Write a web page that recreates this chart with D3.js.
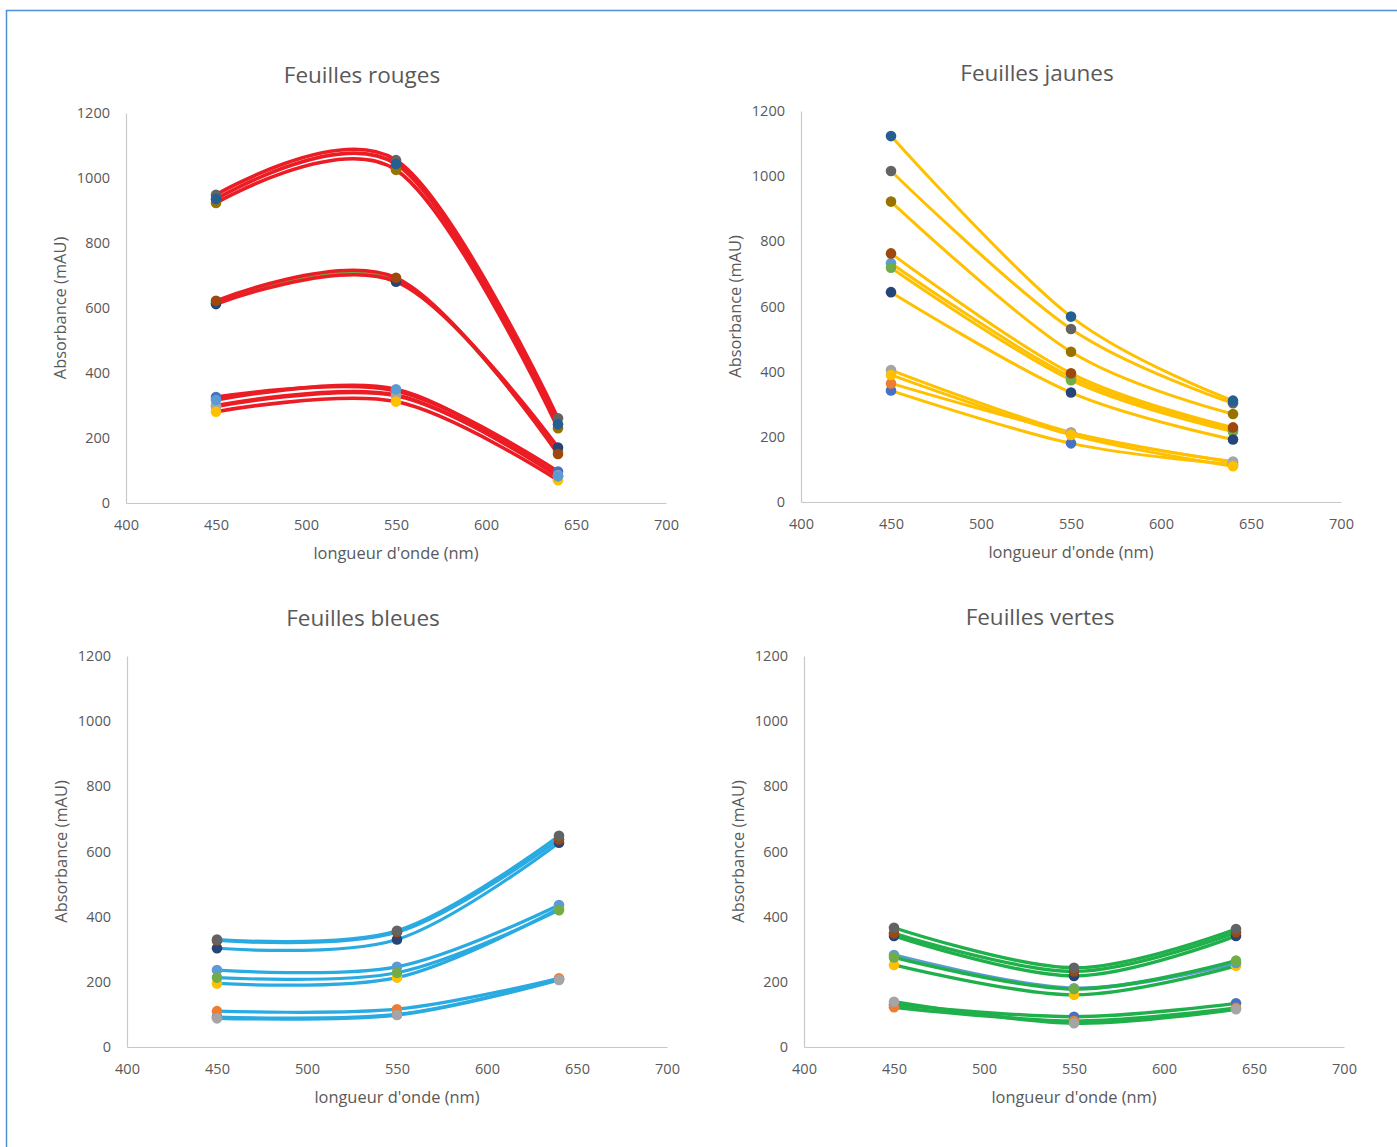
<!DOCTYPE html>
<html><head><meta charset="utf-8">
<script src="https://cdn.jsdelivr.net/npm/d3@7"></script>
<style>
html,body{margin:0;padding:0;background:#fff;}
svg{display:block;font-family:"Open Sans",sans-serif;}
</style></head>
<body>
<svg id="c" width="1397" height="1147"></svg>
<script>
// wavelengths (nm)
const wavelengths = [450, 550, 640];
const xTicks = [400, 450, 500, 550, 600, 650, 700];
const yTicks = [0, 200, 400, 600, 800, 1000, 1200];
// marker colours, series 1..11 (Excel palette)
const markerColors = ["#4472C4","#ED7D31","#A5A5A5","#FFC000","#5B9BD5","#70AD47","#264478","#9E480E","#636363","#997300","#255E91"];
const panelTitles = ["Feuilles rouges","Feuilles jaunes","Feuilles bleues","Feuilles vertes"];
const lineColors = ["#EC1C24","#FFC000","#29ABE2","#20B04B"];
// series values (mAU) at 450, 550, 640 nm; null = series absent
const rouges = [
  [326,345,97],[300,332,82],[297,330,85],[281,312,70],[317,350,82],
  [617,686,160],[612,681,171],[622,693,151],
  [948,1055,261],[923,1025,230],[935,1043,242]
];
const jaunes = [
  [342,180,115],[364,213,122],[405,213,124],[390,206,110],[733,384,222],
  [719,374,216],[644,336,192],[763,395,229],
  [1016,531,303],[922,461,270],[1123,569,311]
];
const bleues = [
  [92,100,208],[110,116,211],[88,98,206],[195,213,425],[236,246,436],
  [213,228,420],[303,330,627],[327,352,637],
  [330,357,648],null,null
];
const vertes = [
  [130,93,134],[122,80,120],[139,73,116],[252,160,249],[282,180,258],
  [275,178,265],[341,218,341],[349,232,352],
  [366,243,362],null,null
];
// series whose line keeps its own default colour (drawn underneath)
const oddLine = [ {s:5, c:"#70AD47"}, null, null, {s:4, c:"#5B9BD5"} ];
const panelData = [rouges, jaunes, bleues, vertes];

const layout = [
  {x0:126, x1:666, yT:113, yB:503, tY:83, tX:362, lX:60},
  {x0:801, x1:1341, yT:111, yB:502, tY:81, tX:1037, lX:735},
  {x0:127, x1:667, yT:656, yB:1047, tY:626, tX:363, lX:61},
  {x0:804, x1:1344, yT:656, yB:1047, tY:625, tX:1040, lX:738}
];
const lineWidths = [3.6, 3, 3.2, 3.4];

const svg = d3.select("#c");
// outer frame
svg.append("path").attr("d","M6.5,1147 L6.5,10.5 L1397,10.5")
  .attr("fill","none").attr("stroke","#4F8FD6").attr("stroke-width",1.5);

const textCol = "#595959";

layout.forEach((L, pi) => {
  const x = d3.scaleLinear().domain([400,700]).range([L.x0, L.x1]);
  const y = d3.scaleLinear().domain([0,1200]).range([L.yB, L.yT]);
  const g = svg.append("g");

  // axes
  const ax = g.append("g").attr("transform",`translate(0,${L.yB})`)
    .call(d3.axisBottom(x).tickValues(xTicks).tickFormat(d3.format("d")).tickSize(0).tickPadding(15));
  const ay = g.append("g").attr("transform",`translate(${L.x0},0)`)
    .call(d3.axisLeft(y).tickValues(yTicks).tickFormat(d3.format("d")).tickSize(0).tickPadding(16));
  [ax, ay].forEach(a => {
    a.select(".domain").attr("stroke","#C8C8C8").attr("stroke-width",1.2);
    a.selectAll("text").attr("fill",textCol).attr("font-size",14.5)
      .attr("font-family","'Open Sans',sans-serif");
  });
  ax.selectAll("text").attr("dy","0.85em");

  // titles
  g.append("text").attr("x",L.tX).attr("y",L.tY).attr("text-anchor","middle")
    .attr("fill",textCol).attr("font-size",22.5).text(panelTitles[pi]);
  g.append("text").attr("x",(L.x0+L.x1)/2).attr("y",L.yB+56).attr("text-anchor","middle")
    .attr("fill",textCol).attr("font-size",16.4).text("longueur d'onde (nm)");
  g.append("text").attr("transform",`translate(${L.lX},${(L.yT+L.yB)/2}) rotate(-90)`)
    .attr("text-anchor","middle").attr("dy","0.35em")
    .attr("fill",textCol).attr("font-size",16.4).text("Absorbance (mAU)");

  const line = d3.line().x((d,i)=>x(wavelengths[i])).y(d=>y(d)).curve(d3.curveCardinal.tension(0));
  const series = panelData[pi].map((v,i)=>({v, i})).filter(d=>d.v);
  const odd = oddLine[pi];
  // odd-coloured line first
  if (odd) {
    const s = series.find(d=>d.i===odd.s);
    g.append("path").attr("d", line(s.v)).attr("fill","none")
      .attr("stroke", odd.c).attr("stroke-width",lineWidths[pi]+0.4);
  }
  series.forEach(s => {
    if (odd && s.i===odd.s) return;
    g.append("path").attr("d", line(s.v)).attr("fill","none")
      .attr("stroke", lineColors[pi]).attr("stroke-width",lineWidths[pi]);
  });
  series.forEach(s => {
    g.selectAll(null).data(s.v).enter().append("circle")
      .attr("cx",(d,i)=>x(wavelengths[i])).attr("cy",d=>y(d)).attr("r",5.3)
      .attr("fill", markerColors[s.i]);
  });
});
</script>
</body></html>
